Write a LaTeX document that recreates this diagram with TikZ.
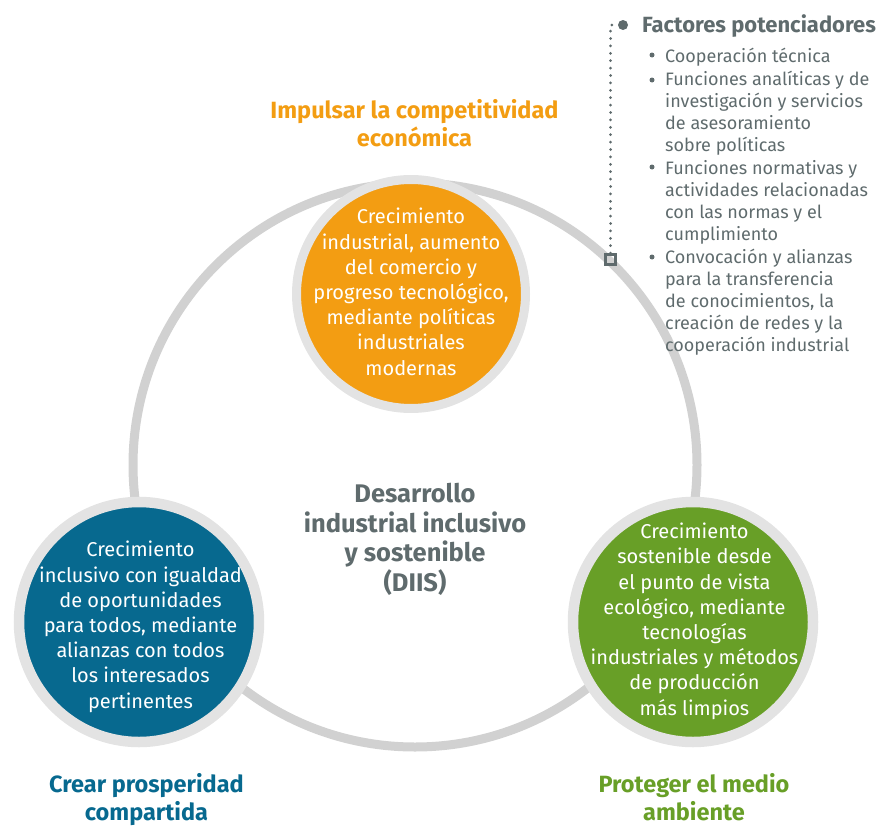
\documentclass[tikz,border=0pt]{standalone}
\usepackage{fontspec}
\setmainfont{Fira Sans}
\usetikzlibrary{positioning}

\definecolor{amber}{HTML}{F39D12}
\definecolor{petrol}{HTML}{07698F}
\definecolor{leaf}{HTML}{689F27}
\definecolor{slate}{HTML}{5F6B6D}
\definecolor{ringgray}{HTML}{D1D1D1}
\definecolor{rimgray}{HTML}{E3E3E3}

\begin{document}
\begin{tikzpicture}[x=1pt,y=-1pt]
  \tikzset{
    bubble/.style={circle,draw=rimgray,fill=#1,inner sep=0pt},
    bubbletext/.style={anchor=base,text=white,align=center,inner sep=0pt,font=\fontsize{20}{25.2}\selectfont},
    goal/.style={anchor=base,text=#1,align=center,inner sep=0pt,font=\bfseries\fontsize{23.5}{28}\selectfont},
    listitem/.style={anchor=base west,align=left,inner sep=0pt,text=slate,font=\fontsize{18}{22}\selectfont},
    bullet/.style={circle,fill=slate,inner sep=0pt,minimum size=5pt},
    dotline/.style={draw=slate,line width=3pt,line cap=round,dash pattern=on 0pt off 7.4pt}
  }
  \useasboundingbox (0,0) rectangle (892,827);

  % ring behind the three pillars
  \coordinate (hub) at (415,465);
  \draw[ringgray,line width=9pt] (hub) circle[radius=282pt];

  % three pillars
  \node[bubble=amber,line width=9pt,minimum size=229pt] (compete) at (411,294) {};
  \node[bubble=petrol,line width=10.5pt,minimum size=240pt] (prosper) at (139,622) {};
  \node[bubble=leaf,line width=10.5pt,minimum size=240pt] (enviro) at (693,622) {};

  % texts sit on the baseline of their last line
  \node[bubbletext] at (411,375) {Crecimiento\\industrial, aumento\\del comercio y\\progreso tecnológico,\\mediante políticas\\industriales\\modernas};
  \node[bubbletext] at (140.5,708) {Crecimiento\\inclusivo con igualdad\\de oportunidades\\para todos, mediante\\alianzas con todos\\los interesados\\pertinentes};
  \node[bubbletext] at (694.5,715) {Crecimiento\\sostenible desde\\el punto de vista\\ecológico, mediante\\tecnologías\\industriales y métodos\\de producción\\más limpios};

  % titles
  \node[goal=amber] (t1) at (414.5,146) {Impulsar la competitividad\\económica};
  \node[goal=petrol] (t2) at (146.5,820) {Crear prosperidad\\compartida};
  \node[goal=leaf] (t3) at (694,820) {Proteger el medio\\ambiente};
  \node[goal=slate,font=\bfseries\fontsize{25.5}{29.5}\selectfont] (diis) at (415,591) {Desarrollo\\industrial inclusivo\\y sostenible\\(DIIS)};

  % enablers list
  \node[circle,fill=slate,inner sep=0pt,minimum size=10pt] (knob) at (623,25) {};
  \node[draw=slate,line width=2.8pt,minimum size=10pt,inner sep=0pt] (stop) at (610.5,259.5) {};
  \draw[dotline] (stop.north) -- (stop.north |- knob) -- (knob.west);

  \node[anchor=base west,inner sep=0pt,text=slate,font=\bfseries\fontsize{22}{24}\selectfont] (enablers) at (642,32) {Factores potenciadores};

  \node[bullet] (b1) at (652,55) {};
  \node[bullet] (b2) at (652,80) {};
  \node[bullet] (b3) at (652,167) {};
  \node[bullet] (b4) at (652,257) {};
  \node[listitem] (i1) at (665,62) {Cooperación técnica};
  \node[listitem] (i2) at (665,151) {Funciones analíticas y de\\investigación y servicios\\de asesoramiento\\sobre políticas};
  \node[listitem] (i3) at (665,240) {Funciones normativas y\\actividades relacionadas\\con las normas y el\\cumplimiento};
  \node[listitem] (i4) at (665,351) {Convocación y alianzas\\para la transferencia\\de conocimientos, la\\creación de redes y la\\cooperación industrial};
\end{tikzpicture}
\end{document}
